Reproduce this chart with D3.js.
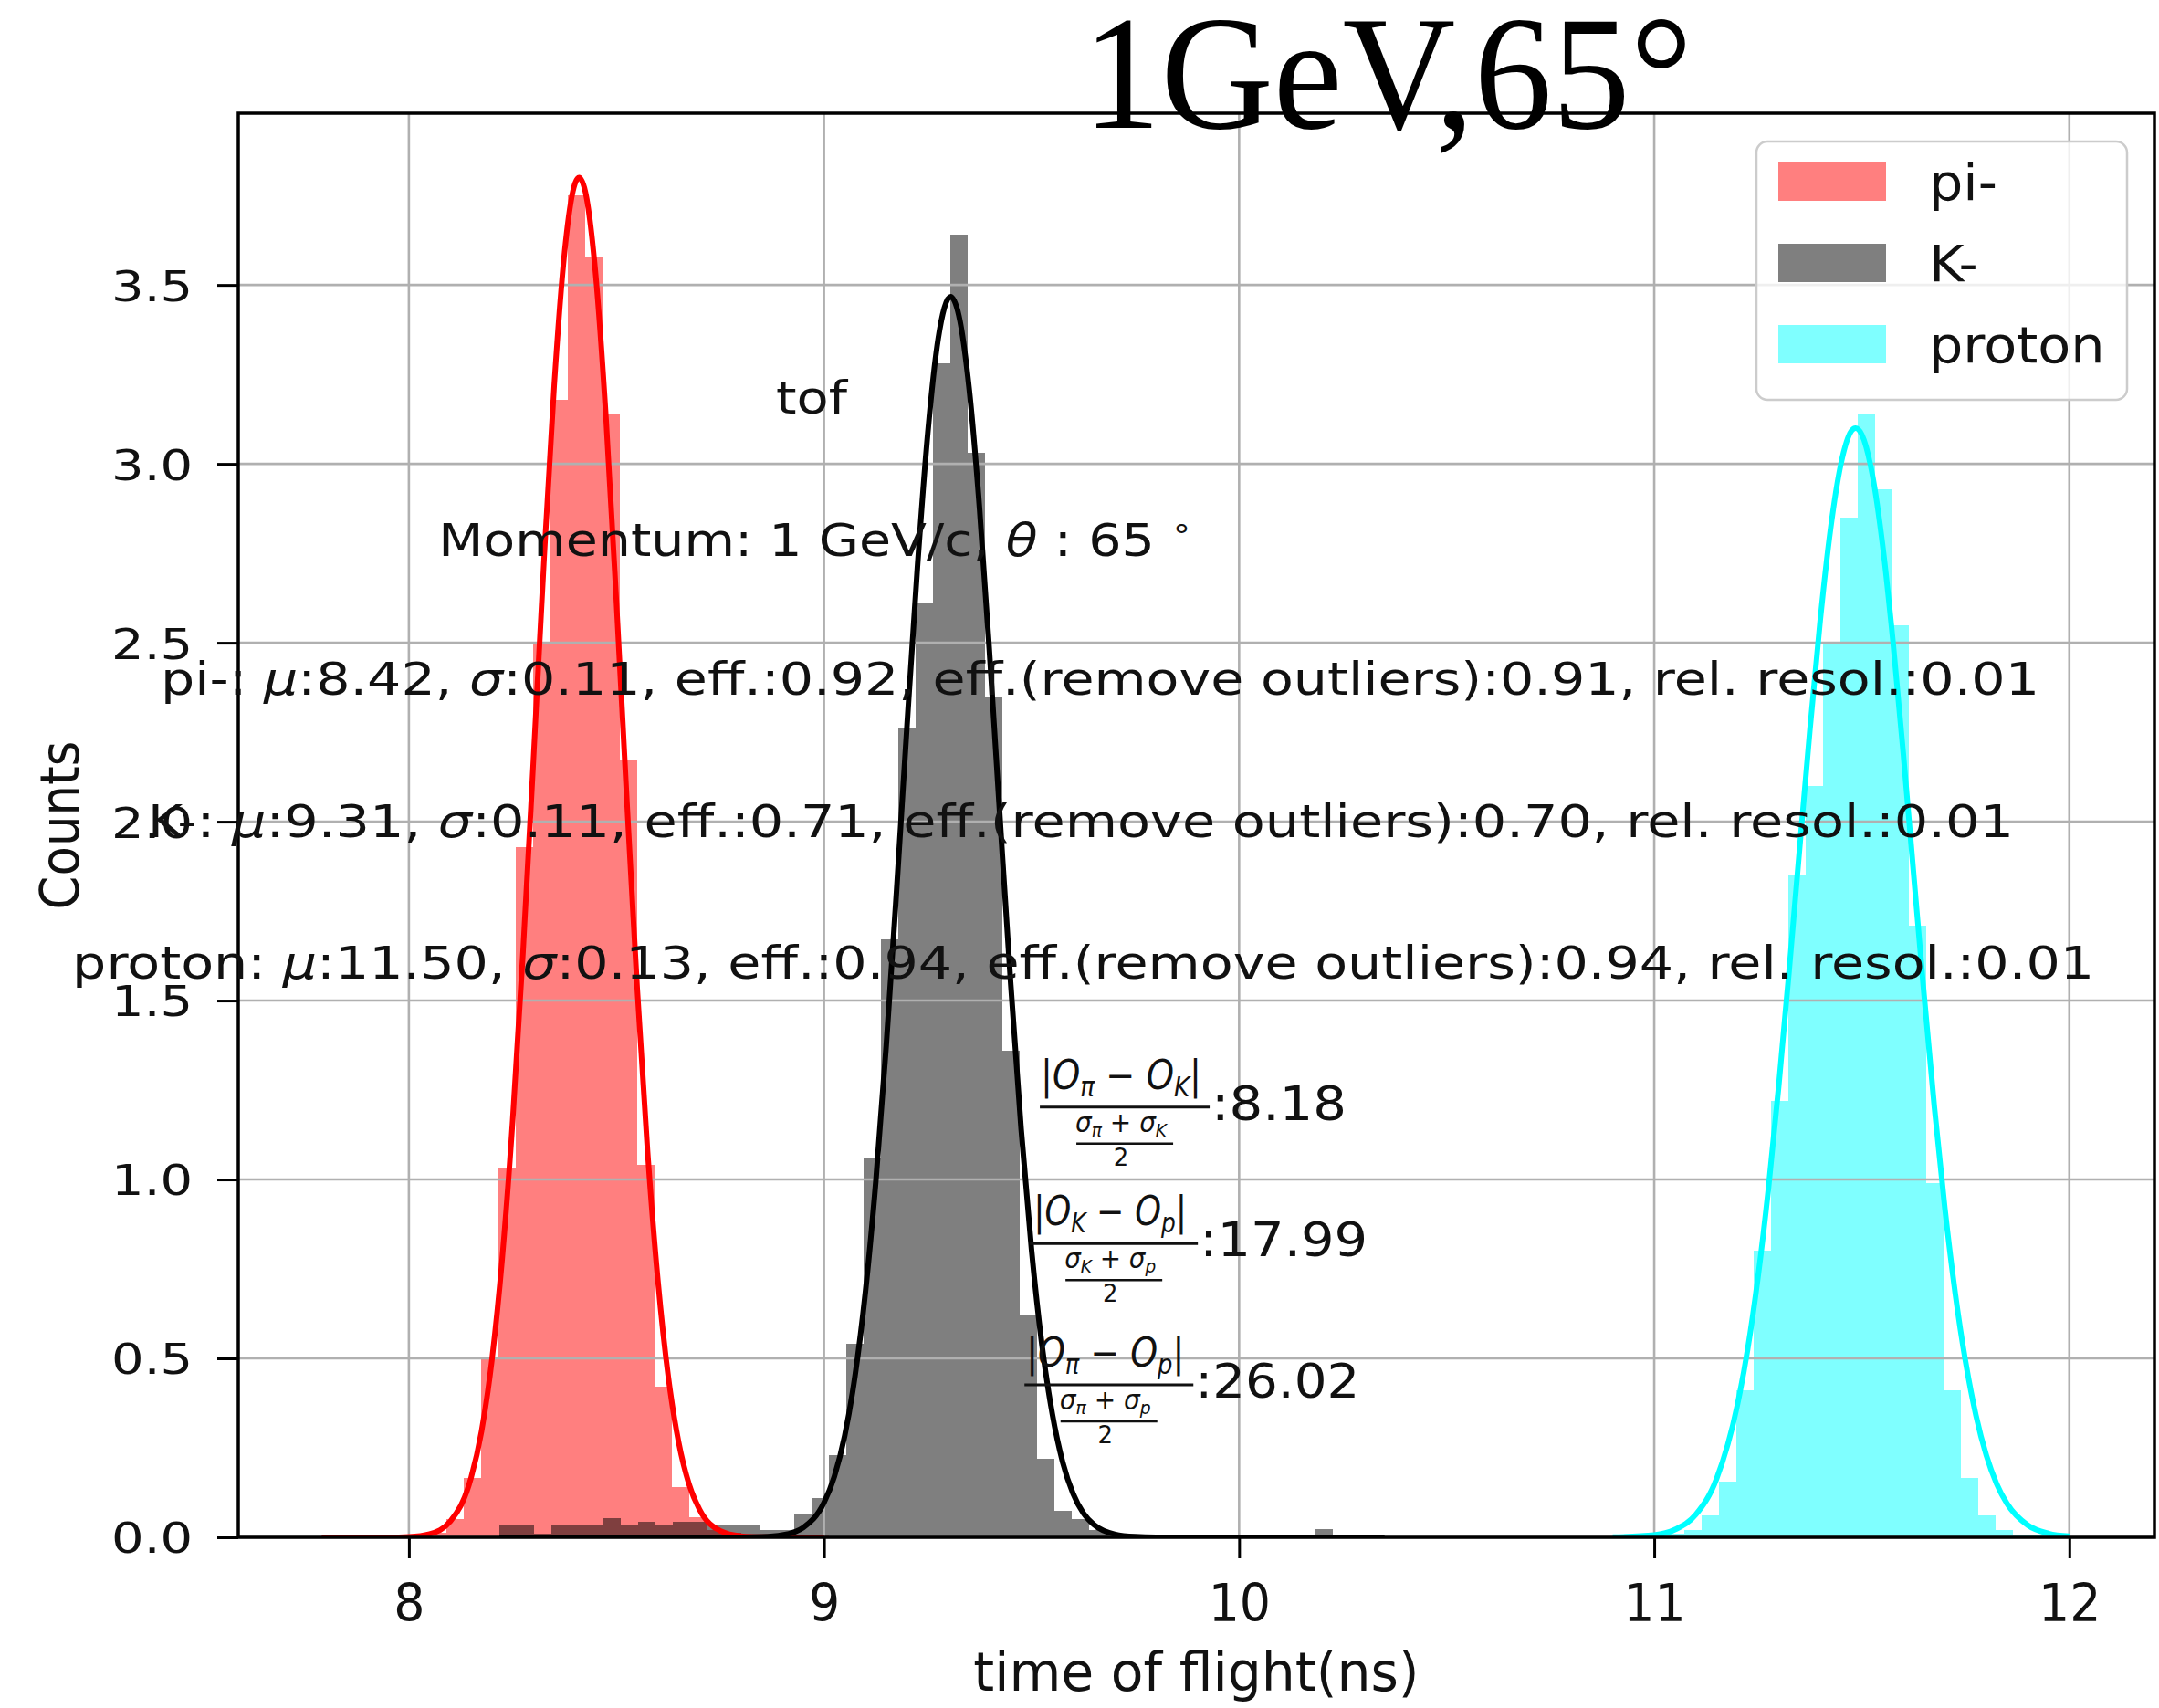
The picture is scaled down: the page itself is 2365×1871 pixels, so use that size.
<!DOCTYPE html>
<html><head><meta charset="utf-8">
<script src="https://cdn.jsdelivr.net/npm/d3@7"></script>
<style>body{margin:0;background:#fff;overflow:hidden}svg{display:block}text{font-family:"DejaVu Sans";fill:#111}</style>
</head><body>
<svg id="c" width="2365" height="1871"></svg>
<script>
// ---------------- data ----------------
const particles = ["pi-", "K-", "proton"];
const xDomain = [7.589, 12.205];
const yDomain = [0, 3.98];
const xTicks = [8, 9, 10, 11, 12];
const yTicks = [0, 0.5, 1.0, 1.5, 2.0, 2.5, 3.0, 3.5];
const yTickLabels = ["0.0", "0.5", "1.0", "1.5", "2.0", "2.5", "3.0", "3.5"];

// histogram bins (density): first left edge, bin width, heights
const binStarts = [8.0076, 8.2183, 10.907];
const binWidths = [0.0418, 0.0418, 0.0416];
const piCounts = [0.005, 0.012, 0.05, 0.166, 0.50, 1.03, 1.93, 2.50, 3.18, 3.75, 3.58, 3.14, 2.17, 1.04, 0.42, 0.14, 0.055, 0.02, 0.012, 0.008, 0.006, 0.005, 0.005, 0.006];
const kCounts = [0.033, 0.033, 0.011, 0.033, 0.033, 0.033, 0.054, 0.032, 0.044, 0.032, 0.044, 0.044, 0.033, 0.033, 0.033, 0.02, 0.02, 0.067, 0.109,
  0.23, 0.54, 1.06, 1.67, 2.26, 2.61, 3.28, 3.64, 3.03, 2.35, 1.36, 0.62, 0.22, 0.075, 0.05, 0.02, 0.01, 0.008, 0.006, 0.004, 0.006, 0.004, 0.004, 0.006, 0.004, 0.004, 0.006, 0.004, 0.023, 0.008, 0.006, 0.006];
const protonCounts = [0.003, 0.003, 0.005, 0.01, 0.02, 0.06, 0.155, 0.41, 0.80, 1.22, 1.85, 2.10, 2.50, 2.85, 3.14, 2.93, 2.55, 1.71, 0.99, 0.41, 0.165, 0.06, 0.02, 0.008, 0.004, 0.003];

// fitted curves: [time, density]
const piFit = [[7.79,0],[7.90,0.0001],[7.95,0.0002],[8.00,0.0016],[8.05,0.0095],[8.10,0.045],[8.15,0.167],[8.175,0.296],[8.20,0.495],[8.225,0.781],[8.25,1.164],[8.275,1.636],[8.30,2.171],[8.325,2.72],[8.35,3.218],[8.375,3.591],[8.40,3.783],[8.41,3.80],[8.425,3.761],[8.45,3.529],[8.475,3.126],[8.50,2.613],[8.525,2.062],[8.55,1.535],[8.575,1.079],[8.60,0.716],[8.625,0.448],[8.65,0.265],[8.675,0.148],[8.70,0.078],[8.75,0.018],[8.80,0.0034],[8.85,0.0005],[8.90,0],[9.00,0]];
const kFit = [[8.218,0],[8.80,0.0002],[8.85,0.0012],[8.90,0.0063],[8.95,0.0272],[9.00,0.0968],[9.025,0.170],[9.05,0.284],[9.075,0.453],[9.10,0.688],[9.125,0.997],[9.15,1.375],[9.175,1.810],[9.20,2.269],[9.225,2.710],[9.25,3.086],[9.275,3.349],[9.305,3.467],[9.325,3.414],[9.35,3.207],[9.375,2.871],[9.40,2.450],[9.425,1.992],[9.45,1.544],[9.475,1.140],[9.50,0.803],[9.525,0.538],[9.55,0.345],[9.575,0.210],[9.60,0.122],[9.625,0.0674],[9.65,0.0356],[9.70,0.0086],[9.75,0.0017],[9.80,0.0003],[9.90,0],[10.35,0]];
const protonFit = [[10.90,0.0004],[11.00,0.0064],[11.05,0.0216],[11.10,0.0633],[11.15,0.163],[11.20,0.368],[11.225,0.525],[11.25,0.727],[11.275,0.973],[11.30,1.262],[11.325,1.583],[11.35,1.922],[11.375,2.256],[11.40,2.564],[11.425,2.820],[11.45,3.001],[11.475,3.092],[11.485,3.10],[11.50,3.082],[11.525,2.973],[11.55,2.775],[11.575,2.506],[11.60,2.191],[11.625,1.853],[11.65,1.517],[11.675,1.201],[11.70,0.921],[11.725,0.683],[11.75,0.491],[11.775,0.341],[11.80,0.229],[11.825,0.149],[11.85,0.094],[11.90,0.0337],[11.95,0.0106],[12.00,0.0029]];

// annotation texts
const fitMu = ["8.42", "9.31", "11.50"];
const fitSigma = ["0.11", "0.11", "0.13"];
const effs = ["0.92", "0.71", "0.94"];
const effsNoOutliers = ["0.91", "0.70", "0.94"];
const relResol = ["0.01", "0.01", "0.01"];
const sepValues = ["8.18", "17.99", "26.02"];
const sepPairs = [["π", "K"], ["K", "p"], ["π", "p"]];
const titleText = "1GeV,65°";

// ---------------- layout / styles ----------------
const colors = {"pi-": "red", "K-": "black", "proton": "cyan"};
const plot = {l: 261, r: 2360, t: 124, b: 1684};
const svg = d3.select("#c");
svg.append("rect").attr("width", 2365).attr("height", 1871).attr("fill", "#fff");
const x = d3.scaleLinear().domain(xDomain).range([plot.l, plot.r]);
const y = d3.scaleLinear().domain(yDomain).range([plot.b, plot.t]);

svg.append("clipPath").attr("id", "clip").append("rect")
  .attr("x", plot.l).attr("y", plot.t).attr("width", plot.r - plot.l).attr("height", plot.b - plot.t);

// histograms
const hg = svg.append("g").attr("clip-path", "url(#clip)");
[piCounts, kCounts, protonCounts].forEach((counts, s) => {
  const bins = counts.map((c, i) => ({x0: binStarts[s] + i * binWidths[s], x1: binStarts[s] + (i + 1) * binWidths[s], c}));
  hg.append("g").selectAll("rect").data(bins).enter().append("rect")
    .attr("x", d => Math.round(x(d.x0)))
    .attr("width", d => Math.round(x(d.x1)) - Math.round(x(d.x0)))
    .attr("y", d => y(d.c))
    .attr("height", d => y(0) - y(d.c))
    .attr("fill", colors[particles[s]]).attr("fill-opacity", 0.5)
    .attr("shape-rendering", "crispEdges");
});

// grid
const gg = svg.append("g").attr("stroke", "#b0b0b0").attr("stroke-width", 2.6);
gg.selectAll(".vx").data(xTicks).enter().append("line")
  .attr("x1", d => x(d)).attr("x2", d => x(d)).attr("y1", plot.t).attr("y2", plot.b);
gg.selectAll(".hy").data(yTicks).enter().append("line")
  .attr("y1", d => y(d)).attr("y2", d => y(d)).attr("x1", plot.l).attr("x2", plot.r);

// fit curves
const line = d3.line().x(d => x(d[0])).y(d => y(d[1])).curve(d3.curveMonotoneX);
const cg = svg.append("g").attr("clip-path", "url(#clip)");
[piFit, kFit, protonFit].forEach((pts, s) => {
  cg.append("path").datum(pts).attr("d", line).attr("fill", "none")
    .attr("stroke", colors[particles[s]]).attr("stroke-width", 6).attr("stroke-linejoin", "round");
});

// axes
const xAxis = d3.axisBottom(x).tickValues(xTicks).tickSize(23).tickPadding(0).tickFormat(d3.format("d"));
const xa = svg.append("g").attr("transform", `translate(0,${plot.b})`).call(xAxis);
xa.select(".domain").remove();
xa.selectAll("line").attr("stroke", "#000").attr("stroke-width", 3);
xa.selectAll("text").attr("font-size", 56).attr("font-family", "DejaVu Sans").attr("fill", "#111")
  .attr("dy", null).attr("y", 0).attr("transform", "translate(0,92) scale(0.96,1)");

const sxT = 1.19;
const yAxis = d3.axisLeft(y).tickValues(yTicks).tickSize(23).tickPadding(0).tickFormat((d, i) => yTickLabels[i]);
const ya = svg.append("g").attr("transform", `translate(${plot.l},0)`).call(yAxis);
ya.select(".domain").remove();
ya.selectAll("line").attr("stroke", "#000").attr("stroke-width", 3);
ya.selectAll("text").attr("font-size", 47).attr("font-family", "DejaVu Sans").attr("fill", "#111")
  .attr("x", -50 / sxT).attr("dy", "0.36em").attr("transform", `scale(${sxT},1)`);

// spines
svg.append("rect").attr("x", plot.l).attr("y", plot.t).attr("width", plot.r - plot.l).attr("height", plot.b - plot.t)
  .attr("fill", "none").attr("stroke", "#000").attr("stroke-width", 3.5);

// axis labels
svg.append("text").attr("transform", `translate(${(plot.l + plot.r) / 2},1852) scale(0.99,1)`)
  .attr("text-anchor", "middle").attr("font-size", 59).text("time of flight(ns)");
svg.append("text").attr("transform", `translate(86,${(plot.t + plot.b) / 2}) rotate(-90) scale(1,1.12)`)
  .attr("text-anchor", "middle").attr("font-size", 53).text("Counts");

// annotation: tof + momentum
svg.append("text").attr("x", x(8.970)).attr("y", y(3.140)).attr("text-anchor", "middle")
  .attr("font-size", 49).attr("textLength", 78).attr("lengthAdjust", "spacingAndGlyphs").text("tof");
const mom = svg.append("text").attr("x", x(8.071)).attr("y", y(2.742)).attr("font-size", 49)
  .attr("textLength", 826).attr("lengthAdjust", "spacingAndGlyphs");
mom.append("tspan").text("Momentum: 1 GeV/c, ");
mom.append("tspan").attr("font-style", "italic").text("θ");
mom.append("tspan").text(" : 65 ");
mom.append("tspan").attr("font-size", 32).attr("dy", -20).text("∘");

// stats lines
const statStart = [7.402, 7.371, 7.189];
const statY = [2.355, 1.957, 1.561];
const statLen = [2058, 2044, 2215];
particles.forEach((p, i) => {
  const t = svg.append("text").attr("x", x(statStart[i])).attr("y", y(statY[i])).attr("font-size", 49)
    .attr("textLength", statLen[i]).attr("lengthAdjust", "spacingAndGlyphs");
  t.append("tspan").text(p + ": ");
  t.append("tspan").attr("font-style", "italic").text("μ");
  t.append("tspan").text(":" + fitMu[i] + ", ");
  t.append("tspan").attr("font-style", "italic").text("σ");
  t.append("tspan").text(":" + fitSigma[i] + ", eff.:" + effs[i] + ", eff.(remove outliers):" + effsNoOutliers[i] + ", rel. resol.:" + relResol[i]);
});

// separation fractions
const fracLeft = [9.520, 9.496, 9.483];
const fracY = [1.202, 0.821, 0.426];
const fracW = [186, 184, 185];
const numW = [176, 168, 173];
const valW = [148, 184, 180];
sepValues.forEach((v, i) => {
  const bx = x(fracLeft[i]), by = y(fracY[i]), w = fracW[i], cx = bx + w / 2;
  const g = svg.append("g");
  g.append("line").attr("x1", bx).attr("x2", bx + w).attr("y1", by).attr("y2", by).attr("stroke", "#111").attr("stroke-width", 3);
  const a = sepPairs[i][0], b = sepPairs[i][1];
  const num = g.append("text").attr("x", cx - 4).attr("y", by - 20).attr("text-anchor", "middle").attr("font-size", 44)
    .attr("textLength", numW[i]).attr("lengthAdjust", "spacingAndGlyphs");
  num.append("tspan").text("|");
  num.append("tspan").attr("font-style", "italic").text("O");
  num.append("tspan").attr("font-style", "italic").attr("font-size", 30).attr("dy", 8).text(a);
  num.append("tspan").attr("dy", -8).text(" − ");
  num.append("tspan").attr("font-style", "italic").text("O");
  num.append("tspan").attr("font-style", "italic").attr("font-size", 30).attr("dy", 8).text(b);
  num.append("tspan").attr("dy", -8).text("|");
  const den = g.append("text").attr("x", cx - 4).attr("y", by + 27).attr("text-anchor", "middle").attr("font-size", 30)
    .attr("textLength", 100).attr("lengthAdjust", "spacingAndGlyphs");
  den.append("tspan").attr("font-style", "italic").text("σ");
  den.append("tspan").attr("font-style", "italic").attr("font-size", 20).attr("dy", 5).text(a);
  den.append("tspan").attr("dy", -5).text(" + ");
  den.append("tspan").attr("font-style", "italic").text("σ");
  den.append("tspan").attr("font-style", "italic").attr("font-size", 20).attr("dy", 5).text(b);
  g.append("line").attr("x1", cx - 53).attr("x2", cx + 53).attr("y1", by + 40).attr("y2", by + 40).attr("stroke", "#111").attr("stroke-width", 2.5);
  g.append("text").attr("x", cx - 4).attr("y", by + 64).attr("text-anchor", "middle").attr("font-size", 26).text("2");
  g.append("text").attr("x", bx + w + 2).attr("y", by + 14).attr("font-size", 52)
    .attr("textLength", valW[i]).attr("lengthAdjust", "spacingAndGlyphs").text(":" + v);
});

// legend
const lg = svg.append("g");
lg.append("rect").attr("x", 1924).attr("y", 155).attr("width", 406).attr("height", 283).attr("rx", 12)
  .attr("fill", "#fff").attr("fill-opacity", 0.8).attr("stroke", "#cccccc").attr("stroke-width", 2.5);
particles.forEach((p, i) => {
  const cy = 199 + i * 89;
  lg.append("rect").attr("x", 1948).attr("y", cy - 21).attr("width", 118).attr("height", 42)
    .attr("fill", colors[p]).attr("fill-opacity", 0.5);
  lg.append("text").attr("transform", `translate(2113,${cy + 20}) scale(1.05,1)`).attr("font-size", 56).text(p);
});

// title
svg.append("text").attr("transform", "translate(1520,140) scale(0.96,1)").attr("text-anchor", "middle")
  .style("font-family", "'Liberation Serif', 'Times New Roman', serif").style("fill", "#000")
  .attr("font-size", 178).text(titleText);
</script>
</body></html>
